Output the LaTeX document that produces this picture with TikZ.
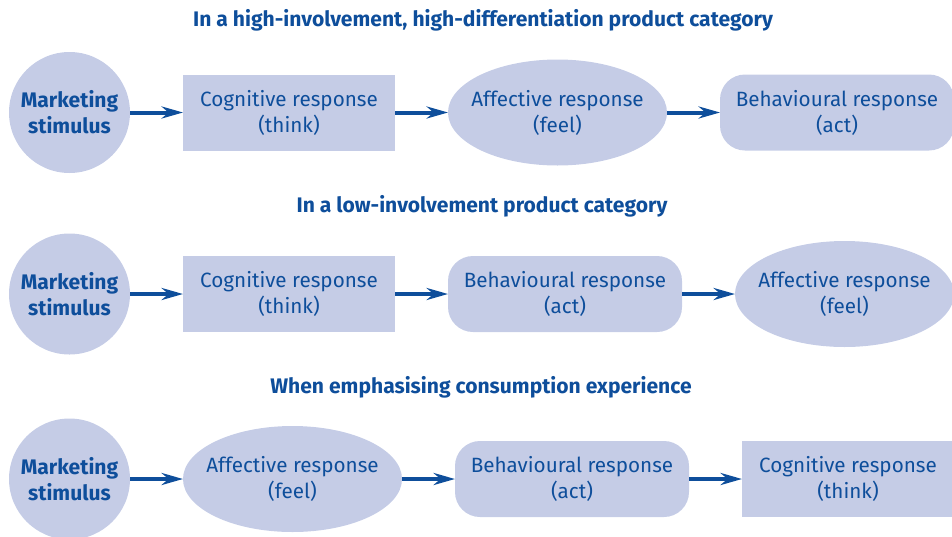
\documentclass[tikz,border=0pt]{standalone}
\usepackage{fontspec}
\setmainfont{Fira Sans}
\usetikzlibrary{arrows.meta, positioning, shapes.geometric}

\definecolor{stimblue}{RGB}{14,78,155}
\definecolor{boxfill}{RGB}{197,204,230}

\tikzset{
  stim/.style = {circle, fill=boxfill, font=\fontsize{15.8}{19.5}\selectfont\bfseries, align=center, minimum size=90.75pt, inner sep=0pt, outer sep=0pt},
  think/.style = {rectangle, fill=boxfill, font=\fontsize{15.5}{19.5}\selectfont, align=center, minimum width=159pt, minimum height=57pt, inner sep=0pt, outer sep=0pt},
  feel/.style = {ellipse, fill=boxfill, font=\fontsize{15.5}{19.5}\selectfont, align=center, minimum width=164.25pt, minimum height=79.5pt, inner xsep=-9pt, inner ysep=0pt, outer sep=0pt},
  act/.style = {rectangle, rounded corners=18.75pt, fill=boxfill, font=\fontsize{15.5}{19.5}\selectfont, align=center, minimum width=175.5pt, minimum height=57pt, inner sep=0pt, outer sep=0pt},
  heading/.style = {font=\fontsize{15.8}{18}\selectfont\bfseries}
}

\begin{document}
\begin{tikzpicture} [-> , >= {Stealth[length=16pt, width=9pt]}, line width = 3pt, color = stimblue, node distance = 39.75pt, x = 0.75pt, y = -0.75pt]

\useasboundingbox (0,0) rectangle (952,536);

% high involvement
\node [heading] (h1) at (483,20) {In a high-involvement, high-differentiation product category};
\node [stim] (ms1) at (69.5,112.5) {Marketing\\stimulus};
\node [think, right = of ms1] (cog1) {Cognitive response\\(think)};
\node [feel, right = of cog1] (aff1) {Affective response\\(feel)};
\node [act, right = of aff1] (beh1) {Behavioural response\\(act)};

\path (ms1) edge (cog1);
\path (cog1) edge (aff1);
\path (aff1) edge (beh1);

% low involvement
\node [heading] (h2) at (482,206.5) {In a low-involvement product category};
\node [stim] (ms2) at (69.5,294) {Marketing\\stimulus};
\node [think, right = of ms2] (cog2) {Cognitive response\\(think)};
\node [act, right = of cog2] (beh2) {Behavioural response\\(act)};
\node [feel, right = of beh2] (aff2) {Affective response\\(feel)};

\path (ms2) edge (cog2);
\path (cog2) edge (beh2);
\path (beh2) edge (aff2);

% consumption experience
\node [heading] (h3) at (481,387) {When emphasising consumption experience};
\node [stim] (ms3) at (69.5,479) {Marketing\\stimulus};
\node [feel, right = of ms3] (aff3) {Affective response\\(feel)};
\node [act, right = of aff3] (beh3) {Behavioural response\\(act)};
\node [think, right = of beh3] (cog3) {Cognitive response\\(think)};

\path (ms3) edge (aff3);
\path (aff3) edge (beh3);
\path (beh3) edge (cog3);

\end{tikzpicture}
\end{document}
